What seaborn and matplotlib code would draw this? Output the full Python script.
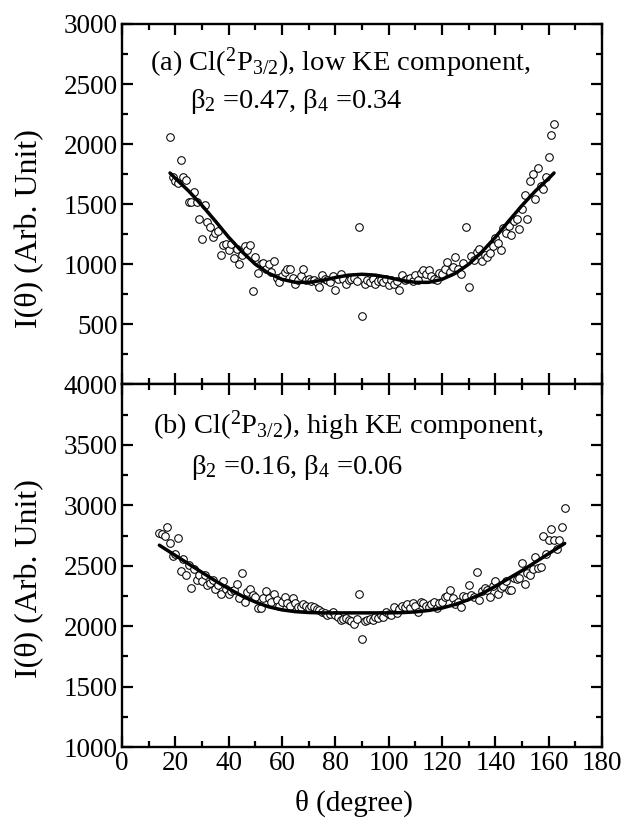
import matplotlib
matplotlib.use("Agg")
import matplotlib.pyplot as plt
import seaborn as sns
import pandas as pd
from matplotlib.ticker import MultipleLocator

# ---------------- data ----------------
theta_a = [18, 19, 20, 21, 22, 23, 24, 25, 26, 27, 28, 29, 30, 31, 32, 33, 34, 35, 36, 37,
           38, 39, 40, 41, 42, 43, 44, 45, 46, 47, 48, 49, 50, 51, 52, 53, 54, 55, 56, 57,
           58, 59, 60, 61, 62, 63, 64, 65, 66, 67, 68, 69, 70, 71, 72, 73, 74, 75, 76, 77,
           78, 79, 80, 81, 82, 83, 84, 85, 86, 87, 88, 89, 90, 91, 92, 93, 94, 95, 96, 97,
           98, 99, 100, 101, 102, 103, 104, 105, 106, 107, 108, 109, 110, 111, 112, 113, 114, 115, 116, 117,
           118, 119, 120, 121, 122, 123, 124, 125, 126, 127, 128, 129, 130, 131, 132, 133, 134, 135, 136, 137,
           138, 139, 140, 141, 142, 143, 144, 145, 146, 147, 148, 149, 150, 151, 152, 153, 154, 155, 156, 157,
           158, 159, 160, 161, 162]
intensity_a = [2060, 1730, 1690, 1675, 1870, 1730, 1700, 1520, 1520, 1600, 1520, 1380, 1210, 1490, 1350, 1310, 1230, 1260, 1280, 1080,
               1160, 1170, 1120, 1170, 1050, 1130, 1000, 1080, 1150, 1120, 1160, 780, 1060, 930, 1000, 1010, 960, 1000, 940, 1030,
               890, 850, 900, 940, 960, 960, 890, 840, 870, 900, 960, 870, 880, 860, 870, 850, 810, 910, 880, 870,
               850, 900, 790, 880, 920, 880, 840, 870, 880, 890, 860, 1310, 570, 840, 870, 850, 880, 840, 860, 870,
               850, 880, 830, 870, 840, 860, 790, 910, 870, 880, 890, 860, 910, 870, 930, 950, 920, 950, 900, 880,
               870, 930, 920, 960, 1020, 940, 980, 1060, 960, 920, 1010, 1310, 810, 1070, 1040, 1100, 1130, 1030, 1080, 1060,
               1090, 1150, 1220, 1180, 1120, 1300, 1260, 1320, 1240, 1360, 1380, 1290, 1460, 1580, 1380, 1690, 1750, 1540, 1800, 1650,
               1630, 1730, 1890, 2080, 2170]

theta_fit_a = [18, 20, 25, 30, 35, 40, 45, 50, 55, 60, 65, 70, 75, 80, 85, 90,
               95, 100, 105, 110, 115, 120, 125, 130, 135, 140, 145, 150, 155, 160, 162]
fit_a = [1760, 1715, 1610, 1490, 1360, 1225, 1105, 1000, 925, 875, 850, 850, 865, 890, 910, 917,
         910, 890, 865, 850, 850, 875, 925, 1000, 1105, 1225, 1360, 1490, 1610, 1715, 1760]

theta_b = [14, 15, 16, 17, 18, 19, 20, 21, 22, 23, 24, 25, 26, 27, 28, 29, 30, 31, 32, 33,
           34, 35, 36, 37, 38, 39, 40, 41, 42, 43, 44, 45, 46, 47, 48, 49, 50, 51, 52, 53,
           54, 55, 56, 57, 58, 59, 60, 61, 62, 63, 64, 65, 66, 67, 68, 69, 70, 71, 72, 73,
           74, 75, 76, 77, 78, 79, 80, 81, 82, 83, 84, 85, 86, 87, 88, 89, 90, 91, 92, 93,
           94, 95, 96, 97, 98, 99, 100, 101, 102, 103, 104, 105, 106, 107, 108, 109, 110, 111, 112, 113,
           114, 115, 116, 117, 118, 119, 120, 121, 122, 123, 124, 125, 126, 127, 128, 129, 130, 131, 132, 133,
           134, 135, 136, 137, 138, 139, 140, 141, 142, 143, 144, 145, 146, 147, 148, 149, 150, 151, 152, 153,
           154, 155, 156, 157, 158, 159, 160, 161, 162, 163, 164, 165, 166]
intensity_b = [2770, 2760, 2750, 2820, 2690, 2580, 2600, 2730, 2460, 2560, 2420, 2510, 2320, 2470, 2380, 2420, 2370, 2420, 2340, 2360,
               2380, 2310, 2340, 2270, 2370, 2310, 2270, 2290, 2300, 2350, 2230, 2440, 2200, 2280, 2310, 2260, 2240, 2150, 2150, 2230,
               2290, 2230, 2200, 2270, 2220, 2170, 2200, 2240, 2190, 2170, 2230, 2190, 2160, 2160, 2180, 2170, 2150, 2170, 2160, 2140,
               2130, 2120, 2110, 2090, 2100, 2120, 2090, 2080, 2050, 2060, 2070, 2050, 2040, 2020, 2060, 2270, 1890, 2040, 2050, 2060,
               2050, 2080, 2070, 2090, 2080, 2120, 2100, 2090, 2160, 2110, 2140, 2170, 2160, 2180, 2150, 2190, 2170, 2120, 2200, 2190,
               2170, 2160, 2180, 2200, 2150, 2190, 2200, 2240, 2250, 2300, 2230, 2180, 2200, 2160, 2250, 2240, 2340, 2260, 2240, 2450,
               2220, 2290, 2320, 2300, 2240, 2330, 2370, 2270, 2320, 2330, 2370, 2300, 2300, 2400, 2390, 2400, 2520, 2350, 2440, 2420,
               2470, 2570, 2480, 2490, 2750, 2600, 2710, 2800, 2710, 2640, 2710, 2820, 2980]

theta_fit_b = [14, 20, 25, 30, 35, 40, 45, 50, 55, 60, 65, 70, 75, 80, 85, 90,
               95, 100, 105, 110, 115, 120, 125, 130, 135, 140, 145, 150, 155, 160, 166]
fit_b = [2670, 2585, 2515, 2445, 2375, 2310, 2250, 2200, 2160, 2135, 2120, 2113, 2110, 2110, 2110, 2110,
         2110, 2110, 2112, 2118, 2130, 2150, 2180, 2220, 2270, 2330, 2395, 2460, 2530, 2600, 2685]

label_a1 = r"(a) Cl($^{2}$P$_{3/2}$), low KE component,"
label_a2 = r"β$_{2}$ =0.47, β$_{4}$ =0.34"
label_b1 = r"(b) Cl($^{2}$P$_{3/2}$), high KE component,"
label_b2 = r"β$_{2}$ =0.16, β$_{4}$ =0.06"
ylabel = "I(θ) (Arb. Unit)"
xlabel = "θ (degree)"

# ---------------- style ----------------
sns.set_style("ticks")
plt.rcParams["font.family"] = ["Liberation Serif", "DejaVu Serif"]
plt.rcParams["mathtext.fontset"] = "custom"
plt.rcParams["mathtext.rm"] = "Liberation Serif"
plt.rcParams["mathtext.it"] = "Liberation Serif:italic"
plt.rcParams["mathtext.bf"] = "Liberation Serif:bold"
plt.rcParams["axes.unicode_minus"] = False
plt.rcParams["text.color"] = "black"
plt.rcParams["axes.labelcolor"] = "black"

FS = 19.5
TXT = 20.5

fig = plt.figure(figsize=(6.27, 8.21), dpi=100)
ax1 = fig.add_axes([0.1946, 0.5317, 0.7656, 0.4391])
ax2 = fig.add_axes([0.1946, 0.0901, 0.7656, 0.4416])

df_a = pd.DataFrame({"theta": theta_a, "I": intensity_a})
df_b = pd.DataFrame({"theta": theta_b, "I": intensity_b})
fa = pd.DataFrame({"theta": theta_fit_a, "I": fit_a})
fb = pd.DataFrame({"theta": theta_fit_b, "I": fit_b})

for ax, df, ff in ((ax1, df_a, fa), (ax2, df_b, fb)):
    sns.scatterplot(data=df, x="theta", y="I", ax=ax, marker="o", s=30,
                    facecolor="white", edgecolor="black", linewidth=0.75, zorder=2)
    sns.lineplot(data=ff, x="theta", y="I", ax=ax, color="black", lw=2.5, zorder=3)
    ax.set_xlim(0, 180)
    ax.xaxis.set_major_locator(MultipleLocator(20))
    ax.xaxis.set_minor_locator(MultipleLocator(10))
    ax.yaxis.set_major_locator(MultipleLocator(500))
    ax.yaxis.set_minor_locator(MultipleLocator(250))
    ax.tick_params(which="both", direction="in", top=True, right=True, width=1.6,
                   labelsize=FS, colors="black", labelcolor="black")
    ax.tick_params(which="major", length=8, pad=3)
    ax.tick_params(which="minor", length=4)
    for sp in ax.spines.values():
        sp.set_linewidth(1.7)
        sp.set_color("black")
        sp.set_visible(True)
    ax.set_ylabel(ylabel, fontsize=23, color="black")

ax1.set_ylim(0, 3000)
ax2.set_ylim(1000, 4000)
ax1.set_yticks([500, 1000, 1500, 2000, 2500, 3000])
ax1.set_yticks([250, 750, 1250, 1750, 2250, 2750], minor=True)
ax1.set_xlabel("")
ax1.tick_params(axis="x", labelbottom=False)
ax2.set_xlabel(xlabel, fontsize=21, color="black")
ax2.xaxis.set_label_coords(0.483, -0.118)

ax1.yaxis.set_label_coords(-0.163, 0.433)
ax2.yaxis.set_label_coords(-0.163, 0.466)

ax1.text(10.5, 2680, label_a1, fontsize=TXT, va="center", ha="left", color="black")
ax1.text(25.5, 2355, label_a2, fontsize=TXT, va="center", ha="left", color="black")
ax2.text(11.5, 3660, label_b1, fontsize=TXT, va="center", ha="left", color="black")
ax2.text(26, 3310, label_b2, fontsize=TXT, va="center", ha="left", color="black")

fig.savefig("out.png", dpi=100, facecolor="white")
